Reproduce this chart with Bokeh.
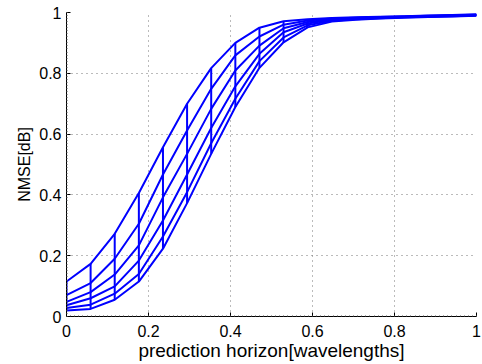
from bokeh.plotting import figure
from bokeh.models import Range1d, FixedTicker
from bokeh.embed import file_html
from bokeh.resources import INLINE

x = [0.0, 0.0588, 0.1176, 0.1765, 0.2353, 0.2941, 0.3529, 0.4118, 0.4706,
     0.5294, 0.5882, 0.6471, 0.7059, 0.7647, 0.8235, 0.8824, 0.9412, 1.0]

c1 = [0.115, 0.173, 0.272, 0.406, 0.557, 0.700, 0.817, 0.900, 0.950, 0.971, 0.978, 0.982, 0.984, 0.986, 0.988, 0.990, 0.992, 0.994]
c2 = [0.070, 0.110, 0.190, 0.305, 0.467, 0.612, 0.749, 0.859, 0.921, 0.960, 0.974, 0.980, 0.983, 0.985, 0.987, 0.989, 0.991, 0.993]
c3 = [0.048, 0.080, 0.138, 0.234, 0.392, 0.535, 0.683, 0.809, 0.891, 0.948, 0.969, 0.978, 0.982, 0.984, 0.986, 0.988, 0.990, 0.992]
c4 = [0.037, 0.060, 0.099, 0.184, 0.316, 0.467, 0.620, 0.757, 0.864, 0.935, 0.964, 0.976, 0.980, 0.983, 0.985, 0.987, 0.989, 0.991]
c5 = [0.028, 0.039, 0.075, 0.140, 0.263, 0.409, 0.570, 0.716, 0.840, 0.918, 0.958, 0.973, 0.978, 0.981, 0.984, 0.986, 0.988, 0.990]
c6 = [0.020, 0.025, 0.055, 0.115, 0.223, 0.373, 0.535, 0.689, 0.818, 0.902, 0.951, 0.970, 0.976, 0.980, 0.983, 0.985, 0.987, 0.989]
curves = [c1, c2, c3, c4, c5, c6]

ticks = [0, 0.2, 0.4, 0.6, 0.8, 1]
tick_labels = {0: "0", 0.2: "0.2", 0.4: "0.4", 0.6: "0.6", 0.8: "0.8", 1: "1"}

FONT = "Liberation Sans"
BLUE = "#0000FF"

p = figure(width=482, height=364, output_backend="svg", toolbar_location=None,
           x_range=Range1d(0, 1), y_range=Range1d(0, 1),
           min_border_left=66, min_border_right=6, min_border_top=12, min_border_bottom=48)
p.outline_line_color = None
p.background_fill_color = "white"
p.border_fill_color = "white"

for c in curves:
    p.line(x, c, line_color=BLUE, line_width=2)
top = [max(v) for v in zip(*curves)]
bot = [min(v) for v in zip(*curves)]
p.segment(x0=x, y0=bot, x1=x, y1=top, line_color=BLUE, line_width=2)

for ax in (p.xaxis[0], p.yaxis[0]):
    ax.ticker = FixedTicker(ticks=ticks, minor_ticks=[i / 100 for i in range(101)])
    ax.major_label_overrides = tick_labels
    ax.major_label_text_font = FONT
    ax.major_label_text_font_size = "16px"
    ax.major_label_text_color = "black"
    ax.axis_label_text_font = FONT
    ax.axis_label_text_font_style = "normal"
    ax.axis_label_text_color = "black"
    ax.axis_line_color = "black"
    ax.axis_line_width = 1
    ax.major_tick_in = 4
    ax.major_tick_out = 0
    ax.minor_tick_in = 1
    ax.minor_tick_out = 0
    ax.major_tick_line_color = "black"
    ax.minor_tick_line_color = "#555555"

p.xaxis.axis_label = "prediction horizon[wavelengths]"
p.yaxis.axis_label = "NMSE[dB]"
p.xaxis.axis_label_text_font_size = "19px"
p.yaxis.axis_label_text_font_size = "16px"
p.xaxis.major_label_standoff = 8
p.yaxis.major_label_standoff = 5
p.xaxis.axis_label_standoff = 0
p.yaxis.axis_label_standoff = 3

for g in (p.xgrid[0], p.ygrid[0]):
    g.grid_line_color = "#777777"
    g.grid_line_dash = "1 4"
    g.grid_line_width = 1

open("out.html", "w").write(file_html(p, INLINE))
